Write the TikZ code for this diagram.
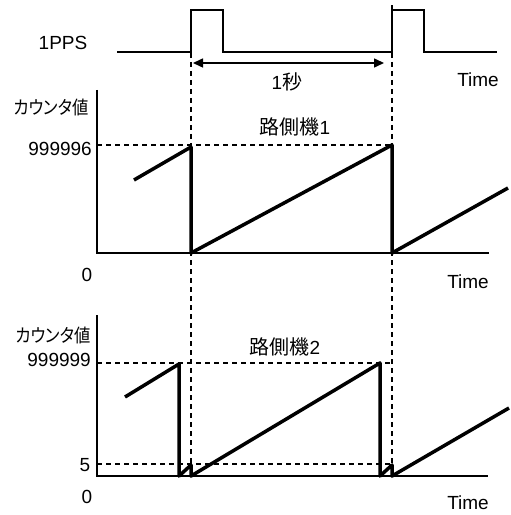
\documentclass[tikz,border=0pt]{standalone}
\usepackage{fontspec}
\setmainfont{Liberation Sans}
\newfontfamily\jp[RawFeature=+palt]{Noto Sans CJK JP}
\newfontfamily\jpn[RawFeature=+palt, FakeStretch=0.88]{Noto Sans CJK JP}
\usetikzlibrary{arrows.meta}
\begin{document}
\begin{tikzpicture}[x=1bp,y=-1bp,
  lbl/.style={inner sep=0pt, font=\fontsize{19bp}{21bp}\selectfont},
  jlbl/.style={inner sep=0pt, font=\fontsize{18.5bp}{21bp}\selectfont\jpn},
  sig/.style={line width=2bp},
  axisline/.style={line width=2bp},
  saw/.style={line width=3.5bp, line join=round},
  guide/.style={line width=1.5bp, dash pattern=on 5bp off 4bp},
]
\useasboundingbox (0,0) rectangle (511,515);

% 1PPS signal
\draw[sig] (117,52) -- (191,52) -- (191,10) -- (223,10) -- (223,52) -- (392,52) -- (392,10) -- (424,10) -- (424,52) -- (497,52);
\draw[sig] (392,10) -- (392,5);

% vertical guides
\draw[guide] (191,53) -- (191,477);
\draw[guide] (392,53) -- (392,477);

% 1 second arrow
\coordinate (a1) at (193,63);
\coordinate (a2) at (384,63);
\draw[line width=1.5bp, {Triangle[length=10bp,width=9bp]}-{Triangle[length=10bp,width=9bp]}] (a1) -- (a2);

% labels top
\node[lbl] (pps) at (63,43) {1PPS};
\node[lbl] (sec) at (287,82) {1{\jp\fontsize{20bp}{22bp}\selectfont 秒}};
\node[lbl] (t0) at (478,80) {Time};

% chart 1
\draw[axisline] (97,90) -- (97,253) -- (489,253);
\draw[guide] (97,145) -- (392,145);
\draw[saw] (134,180) -- (191,147) -- (191,253) -- (392,145) -- (392,253) -- (508,188);
\node[jlbl] (cv1) at (51,107) {カウンタ値};
\node[lbl, anchor=east] (v1) at (92,148.5) {999996};
\node[lbl] (z1) at (87,275) {0};
\node[lbl] (t1) at (468,282) {Time};
\node[lbl] (r1) at (295,127) {{\jp\fontsize{20bp}{22bp}\selectfont 路側機}1};

% chart 2
\draw[axisline] (97,315) -- (97,476) -- (488,476);
\draw[guide] (97,363) -- (392,363);
\draw[guide] (97,464) -- (392,464);
\draw[saw] (125,397) -- (179,364) -- (179,476) -- (191,465) -- (191,476) -- (380,363) -- (380,476) -- (392,465) -- (392,476) -- (509,408);
\node[jlbl] (cv2) at (53,335) {カウンタ値};
\node[lbl, anchor=east] (v2) at (91,360) {999999};
\node[lbl] (five) at (85,465) {5};
\node[lbl] (z2) at (87,497) {0};
\node[lbl] (t2) at (468,503) {Time};
\node[lbl] (r2) at (285,347) {{\jp\fontsize{20bp}{22bp}\selectfont 路側機}2};
\end{tikzpicture}
\end{document}
